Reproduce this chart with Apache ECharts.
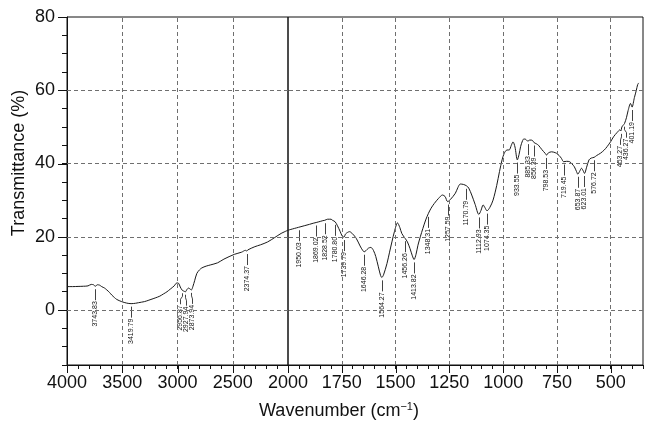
<!DOCTYPE html>
<html>
<head>
<meta charset="utf-8">
<title>FTIR spectrum</title>
<script src="https://cdn.jsdelivr.net/npm/echarts@6/dist/echarts.min.js"></script>
<style>
  html, body { margin: 0; padding: 0; background: #fff; }
  #chart { width: 646px; height: 422px; }
</style>
</head>
<body>
<div id="chart"></div>
<script>
// Spectrum: wavenumber (cm-1, descending) and transmittance (%)
const wavenumbers = [
  4000, 3950, 3900, 3850, 3810, 3780, 3760, 3744, 3725, 3705, 3686, 3660, 3640, 3615, 3595, 3570,
  3550, 3505, 3460, 3420, 3380, 3354, 3300, 3278, 3240, 3202, 3160, 3127, 3095, 3066, 3030, 3006,
  2990, 2975, 2957, 2945, 2928, 2915, 2900, 2885, 2874, 2860, 2845, 2825, 2800, 2780, 2740, 2704,
  2637, 2580, 2486, 2420, 2385, 2374, 2365, 2300, 2250, 2184, 2120, 2063, 2000,
  1944, 1900, 1883, 1869, 1850, 1838, 1829, 1816, 1800, 1793, 1781, 1770, 1758, 1748, 1740, 1732,
  1714, 1700, 1683, 1665, 1653, 1646, 1638, 1626, 1615, 1603, 1592, 1580, 1570, 1564, 1556, 1540,
  1528, 1517, 1505, 1491, 1480, 1471, 1456, 1445, 1433, 1422, 1414, 1405, 1396, 1385, 1373, 1360,
  1348, 1335, 1320, 1300, 1282, 1270, 1258, 1245, 1222, 1210, 1199, 1185, 1170, 1160, 1146, 1130,
  1113, 1103, 1093, 1085, 1075, 1062, 1047, 1030, 1017, 1005, 995, 982, 972, 962, 954, 945,
  934, 926, 919, 910, 904, 895, 885, 877, 869, 862, 856, 846, 836, 820, 805, 798,
  790, 775, 765, 752, 740, 729, 719, 705, 691, 680, 669, 659, 653, 645, 636, 628,
  622, 612, 601, 590, 577, 565, 548, 530, 517, 500, 487, 470, 457, 453, 448, 440,
  436, 427, 419, 408, 401, 390, 381, 375, 370
];
const transmittance = [
  6.4, 6.4, 6.45, 6.5, 6.6, 7.0, 6.9, 6.5, 6.9, 6.8, 6.4, 6.0, 5.5, 4.8, 4.1, 3.4,
  2.9, 2.3, 1.9, 1.75, 1.85, 2.0, 2.3, 2.5, 2.9, 3.3, 3.8, 4.4, 5.0, 5.7, 6.6, 7.4,
  7.3, 6.3, 5.4, 5.2, 5.0, 5.6, 6.0, 5.7, 5.5, 6.5, 8.0, 10.0, 11.0, 11.5, 12.0, 12.3,
  12.9, 13.9, 15.2, 15.8, 16.3, 16.1, 16.4, 17.3, 17.8, 18.6, 19.8, 20.9, 21.8,
  22.7, 23.4, 23.7, 23.9, 24.2, 24.4, 24.5, 24.8, 24.8, 24.5, 24.1, 23.0, 21.5, 20.2, 19.9, 20.8,
  21.4, 20.8, 19.6, 17.5, 16.3, 15.9, 16.2, 16.9, 17.1, 16.3, 14.6, 11.8, 9.5, 8.9, 9.6, 12.7,
  15.8, 18.6, 21.5, 23.8, 22.5, 20.9, 19.6, 18.6, 16.8, 14.8, 13.8, 15.2, 17.7, 20.0, 22.3, 24.6,
  26.3, 27.8, 29.1, 30.5, 31.4, 31.0, 29.6, 30.2, 31.9, 33.5, 34.4, 34.3, 33.9, 33.3, 31.4, 28.8,
  26.1, 27.2, 28.7, 28.0, 27.1, 28.0, 30.0, 34.0, 37.8, 41.0, 42.8, 43.7, 43.7, 45.0, 45.9, 44.5,
  41.0, 42.5, 44.6, 46.2, 46.7, 46.6, 46.1, 46.4, 46.4, 46.2, 45.7, 45.4, 45.0, 43.8, 42.8, 42.3,
  42.9, 43.2, 43.1, 42.8, 42.2, 41.4, 40.5, 40.6, 40.5, 39.9, 39.1, 37.8, 37.1, 37.8, 38.7, 38.0,
  37.3, 39.0, 41.0, 41.5, 41.7, 42.2, 42.8, 43.7, 44.6, 46.0, 47.3, 48.5, 49.2, 48.9, 50.0, 50.6,
  50.9, 52.5, 54.5, 56.4, 55.4, 58.0, 60.0, 61.5, 62.0
];

// Annotated band positions (cm-1)
const peakPositions = [
  3743.83, 3419.79, 2956.87, 2927.94, 2873.94, 2374.37,
  1950.03, 1869.02, 1828.52, 1780.80, 1739.79, 1646.28, 1564.27, 1456.26, 1413.82, 1348.31,
  1257.59, 1170.79, 1112.93, 1074.35, 933.55, 885.33, 856.39, 798.53, 719.45, 653.87,
  623.01, 576.72, 453.27, 436.27, 401.19
];

// Labelled axis ticks
const highRangeTicks = [4000, 3500, 3000, 2500, 2000];
const lowRangeTicks = [1750, 1500, 1250, 1000, 750, 500];
const yTicks = [0, 20, 40, 60, 80];

const FONT = '"Liberation Sans", Arial, Helvetica, sans-serif';
const INK = '#111';
const Y_MIN = -15, Y_MAX = 80;
const DASHED = { color: '#6f6f6f', type: [4, 3], width: 1 };
const LABEL_GAP = 6;

// Linear lookup of transmittance at an arbitrary wavenumber
function transmittanceAt(w) {
  for (let i = 0; i < wavenumbers.length - 1; i++) {
    const a = wavenumbers[i], b = wavenumbers[i + 1];
    if (w <= a && w >= b) {
      const f = (a - w) / (a - b);
      return transmittance[i] + f * (transmittance[i + 1] - transmittance[i]);
    }
  }
  return transmittance[transmittance.length - 1];
}

const pairs = wavenumbers.map((w, i) => [w, transmittance[i]]);
const highPart = pairs.filter(p => p[0] >= 2000);
const lowPart = pairs.filter(p => p[0] <= 2000);
const highPeaks = peakPositions.filter(w => w >= 2000).map(w => [w, transmittanceAt(w)]);
const lowPeaks = peakPositions.filter(w => w < 2000).map(w => [w, transmittanceAt(w)]);

// Push crowded label positions apart so neighbouring texts do not collide
function spread(xs, gap) {
  const order = xs.map((x, i) => i).sort((a, b) => xs[a] - xs[b]);
  const pos = order.map(i => xs[i]);
  for (let it = 0; it < 60; it++) {
    let moved = false;
    for (let k = 1; k < pos.length; k++) {
      const d = pos[k] - pos[k - 1];
      if (d < gap - 0.01) {
        const s = (gap - d) / 2;
        pos[k - 1] -= s; pos[k] += s; moved = true;
      }
    }
    if (!moved) break;
  }
  const out = [];
  order.forEach((i, k) => { out[i] = pos[k]; });
  return out;
}

// Leader line plus rotated value below the curve
function peakRenderer(peaks) {
  return function (params, api) {
    const xs = spread(peaks.map(d => api.coord(d)[0]), LABEL_GAP);
    const p = api.coord([api.value(0), api.value(1)]);
    const w = api.value(0);
    const x0 = Math.round(p[0]) + 0.5;
    const xl = Math.round(xs[params.dataIndex]) + 0.5;
    const y = p[1];
    const pts = Math.abs(xl - x0) < 1
      ? [[x0, y + 3], [x0, y + 14]]
      : [[x0, y + 3], [x0, y + 6], [xl, y + 9], [xl, y + 14]];
    return {
      type: 'group',
      children: [
        { type: 'polyline', shape: { points: pts },
          style: { stroke: INK, lineWidth: 0.8, fill: null } },
        { type: 'text', x: xl, y: y + 15, rotation: Math.PI / 2,
          style: { text: w.toFixed(2), align: 'right', verticalAlign: 'middle',
                   fontSize: 7, fontFamily: FONT, fill: INK } }
      ]
    };
  };
}

// Longer ticks at the labelled wavenumbers, hanging below the x axis
function majorXTick(params, api) {
  const p = api.coord([api.value(0), Y_MIN]);
  const x = Math.round(p[0]) + 0.5;
  const y = Math.round(p[1]);
  return { type: 'line', shape: { x1: x, y1: y, x2: x, y2: y + 8 },
           style: { stroke: INK, lineWidth: 1 } };
}

// Longer ticks at the labelled transmittance values, left of the y axis
function majorYTick(params, api) {
  const p = api.coord([4000, api.value(0)]);
  const x = Math.round(p[0]);
  const y = Math.round(p[1]) + 0.5;
  return { type: 'line', shape: { x1: x - 9, y1: y, x2: x, y2: y },
           style: { stroke: INK, lineWidth: 1 } };
}

function xAxisFor(gridIndex, min, max, step, show) {
  return {
    type: 'value', gridIndex, min, max, interval: step, inverse: true, position: 'bottom',
    axisLine: { show: true, onZero: false, lineStyle: { color: INK, width: 1 } },
    axisTick: { show: true, length: 4, lineStyle: { color: INK } },
    axisLabel: {
      show: true, showMinLabel: true, showMaxLabel: true,
      fontSize: 18, fontFamily: FONT, color: INK, margin: 9,
      formatter: v => (show.indexOf(v) >= 0 ? String(v) : '')
    },
    splitLine: { show: false }
  };
}

function gridLines(xValues) {
  return {
    silent: true, symbol: 'none', animation: false,
    label: { show: false }, lineStyle: DASHED, emphasis: { disabled: true },
    data: xValues.map(v => ({ xAxis: v })).concat(
      yTicks.filter(v => v > Y_MIN && v < Y_MAX).map(v => ({ yAxis: v })))
  };
}

const chart = echarts.init(document.getElementById('chart'), null, { renderer: 'canvas' });

chart.setOption({
  backgroundColor: '#fff',
  animation: false,
  grid: [
    { left: 67, top: 17, width: 221, height: 348, show: true, borderColor: INK, borderWidth: 1 },
    { left: 288, top: 17, width: 363, height: 348, show: true, borderColor: INK, borderWidth: 1 }
  ],
  xAxis: [
    xAxisFor(0, 2000, 4000, 100, highRangeTicks),
    xAxisFor(1, 350, 2000, 50, lowRangeTicks)
  ],
  yAxis: [
    {
      type: 'value', gridIndex: 0, min: Y_MIN, max: Y_MAX, interval: 5, position: 'left',
      axisLine: { show: true, onZero: false, lineStyle: { color: INK, width: 1 } },
      axisTick: { show: true, length: 5, lineStyle: { color: INK } },
      axisLabel: {
        show: true, fontSize: 18, fontFamily: FONT, color: INK, margin: 12,
        formatter: v => (yTicks.indexOf(v) >= 0 ? String(v) : '')
      },
      splitLine: { show: false }
    },
    {
      type: 'value', gridIndex: 1, min: Y_MIN, max: Y_MAX, interval: 5, position: 'left',
      axisLine: { show: false }, axisTick: { show: false }, axisLabel: { show: false },
      splitLine: { show: false }
    }
  ],
  graphic: [
    {
      type: 'text', x: 19, y: 163, rotation: Math.PI / 2,
      style: { text: 'Transmittance (%)', align: 'center', verticalAlign: 'middle',
               fontSize: 18, fontFamily: FONT, fill: INK }
    },
    {
      type: 'text', x: 339, y: 411,
      style: {
        text: 'Wavenumber (cm{sup|−1})', align: 'center', verticalAlign: 'middle',
        fontSize: 18, fontFamily: FONT, fill: INK,
        rich: { sup: { fontSize: 11, fontFamily: FONT, fill: INK, verticalAlign: 'top', padding: [0, 0, 9, 0] } }
      }
    }
  ],
  series: [
    {
      type: 'line', xAxisIndex: 0, yAxisIndex: 0, data: highPart,
      showSymbol: false, smooth: 0.3, lineStyle: { color: '#1a1a1a', width: 1 },
      markLine: gridLines(highRangeTicks.filter(v => v > 2000 && v < 4000)), z: 3
    },
    {
      type: 'line', xAxisIndex: 1, yAxisIndex: 1, data: lowPart,
      showSymbol: false, smooth: 0.3, lineStyle: { color: '#1a1a1a', width: 1 },
      markLine: gridLines(lowRangeTicks), z: 3
    },
    {
      type: 'custom', xAxisIndex: 0, yAxisIndex: 0, data: highPeaks,
      renderItem: peakRenderer(highPeaks), silent: true
    },
    {
      type: 'custom', xAxisIndex: 1, yAxisIndex: 1, data: lowPeaks,
      renderItem: peakRenderer(lowPeaks), silent: true
    },
    {
      type: 'custom', xAxisIndex: 0, yAxisIndex: 0, data: highRangeTicks.map(v => [v]),
      renderItem: majorXTick, silent: true, clip: false
    },
    {
      type: 'custom', xAxisIndex: 1, yAxisIndex: 1, data: lowRangeTicks.map(v => [v]),
      renderItem: majorXTick, silent: true, clip: false
    },
    {
      type: 'custom', xAxisIndex: 0, yAxisIndex: 0, data: yTicks.map(v => [v]),
      encode: { y: 0 }, renderItem: majorYTick, silent: true, clip: false
    }
  ]
});
</script>
</body>
</html>
